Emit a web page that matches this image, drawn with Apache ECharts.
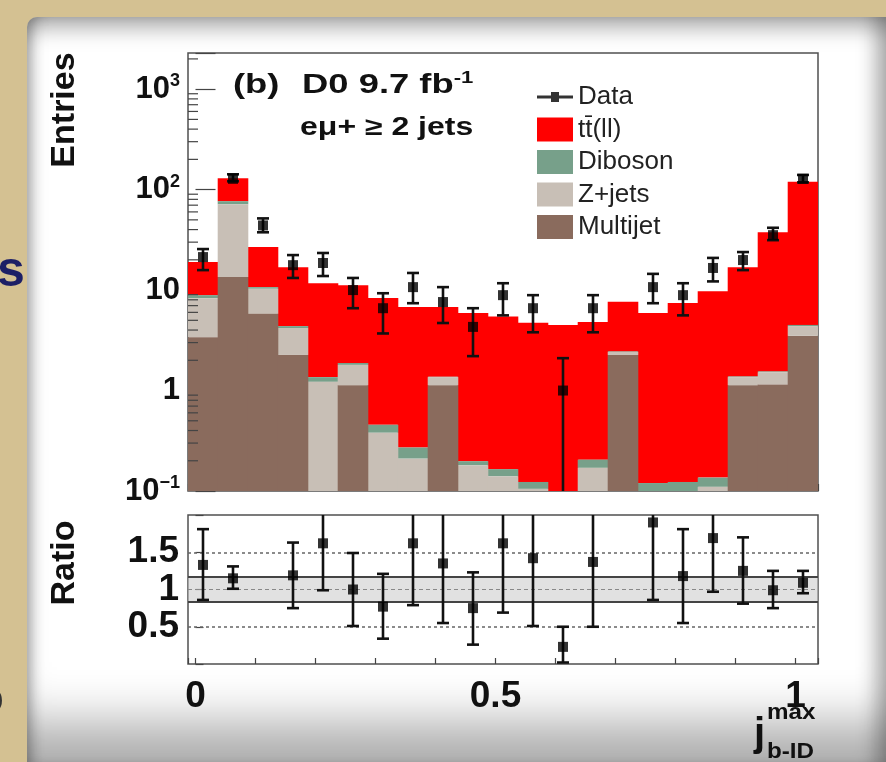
<!DOCTYPE html>
<html><head><meta charset="utf-8">
<script src="https://cdn.jsdelivr.net/npm/echarts@6/dist/echarts.min.js"></script>
<style>
html,body{margin:0;padding:0;width:886px;height:762px;overflow:hidden;background:#d4c192;}
#paper{position:absolute;left:27px;top:17px;width:859px;height:745px;background:#fff;
 box-shadow: inset 0 20px 22px -10px rgba(0,0,0,0.35), inset 0 -70px 50px -30px rgba(0,0,0,0.32), inset 12px 0 14px -8px rgba(0,0,0,0.3), inset -22px 0 18px -10px rgba(0,0,0,0.25);
 border-radius: 10px 0 0 0;}
#chart{position:absolute;left:0;top:0;width:886px;height:762px;}
</style></head>
<body><div id="paper"></div><div id="chart"></div>
<script>
// ---- data ----
const binCenters = [0.0125,0.0625,0.1125,0.1625,0.2125,0.2625,0.3125,0.3625,0.4125,0.4625,0.5125,0.5625,0.6125,0.6625,0.7125,0.7625,0.8125,0.8625,0.9125,0.9625,1.0125];
const binWidth = 0.05;
const multijet = [3.4,13.5,5.8,2.26,0,1.13,0,0,1.13,0,0,0,0,0,2.26,0,0,0,1.13,1.15,3.5];
const zjets    = [4.9,58,4.5,1.93,1.22,0.67,0.38,0.21,0.23,0.18,0.14,0.105,0,0.17,0.16,0,0.1,0.11,0.23,0.37,0.88];
const diboson  = [0.6,5.2,0.4,0.19,0.14,0.08,0.076,0.061,0.01,0.018,0.025,0.018,0,0.035,0.03,0.12,0.023,0.026,0.02,0.03,0.12];
const ttbar    = [10.1,53,16.1,12.5,10.3,9.3,7.9,6.5,5.4,5.7,5.3,4.6,4.5,4.6,5.2,5.8,7.3,9.6,15.5,36,115];
const dataVals = [21.3,128,44,17.7,18.6,10,6.6,10.7,7.6,4.3,8.9,6.6,1,6.6,null,10.7,8.9,16.6,19.9,35.2,128];
const dataLo   = [15.8,121,37.6,13.2,13.8,6.6,3.7,7.4,4.7,2.2,5.6,3.8,0.05,3.8,null,7.4,5.6,12.2,15.8,31.4,118];
const dataHi   = [25.6,142,51.7,22.3,23.4,13.2,9.3,14.8,10.7,6.6,11.7,8.9,2.1,8.9,null,14.5,11.7,20.9,23.9,41.7,140];
const ratioVals = [1.33,1.15,null,1.19,1.62,1.0,0.77,1.62,1.35,0.75,1.62,1.42,0.23,1.37,null,1.90,1.18,1.69,1.25,0.99,1.09];
const ratioLo   = [0.86,1.01,null,0.75,0.99,0.51,0.34,0.79,0.55,0.26,0.69,0.51,0.02,0.5,null,0.86,0.55,0.97,0.81,0.75,0.95];
const ratioHi   = [1.81,1.31,null,1.63,2.3,1.49,1.21,2.3,2.3,1.23,2.3,2.3,0.5,2.3,null,2.3,1.81,2.3,1.70,1.25,1.25];
const ratioBand = [0.83, 1.17];
const yTickLabels = {'-1':'10{s|−1}','0':'1','1':'10','2':'10{s|2}','3':'10{s|3}'};
const X_MIN = -0.0125, X_MAX = 1.0375, Y_MIN = 0.1, Y_MAX = 2290;

const FONT = 'Liberation Sans, Arial, Helvetica, sans-serif';
const COLORS = {tt:'#ff0000', db:'#77a08a', zj:'#c8bfb6', mj:'#8a6b5d'};
const NAMES = {tt:'tt\u0304(ll)', db:'Diboson', zj:'Z+jets', mj:'Multijet'};

// cumulative stack tops
const cumMJ = multijet.slice();
const cumZJ = cumMJ.map((v,i)=>v+zjets[i]);
const cumDB = cumZJ.map((v,i)=>v+diboson[i]);
const cumTT = cumDB.map((v,i)=>v+ttbar[i]);

function histSeries(key, lows, highs){
  return {
    type:'custom', name:NAMES[key], xAxisIndex:0, yAxisIndex:0, clip:true, z:2,
    itemStyle:{color:COLORS[key]},
    data: binCenters.map((c,i)=>[c, Math.max(lows ? lows[i] : Y_MIN, Y_MIN), Math.max(highs[i], Y_MIN)]),
    renderItem(params, api){
      const c = api.value(0), lo = api.value(1), hi = api.value(2);
      if (!(hi > lo)) return null;
      const p0 = api.coord([c - binWidth/2, hi]);
      const p1 = api.coord([c + binWidth/2, lo]);
      return {type:'rect', shape:{x:p0[0]-0.3, y:p0[1], width:p1[0]-p0[0]+0.6, height:p1[1]-p0[1]},
              style:{fill:COLORS[key]}};
    }
  };
}

function errSeries(xi, yi, vals, lo, hi, cap){
  const d = [];
  binCenters.forEach((c,i)=>{ if (vals[i] != null) d.push([c, lo[i], hi[i]]); });
  return {
    type:'custom', xAxisIndex:xi, yAxisIndex:yi, clip:true, z:5, silent:true,
    data:d,
    renderItem(params, api){
      const c = api.value(0);
      const ymin = yi === 0 ? Y_MIN : 0;
      const loV = Math.max(api.value(1), ymin*0.5);
      const pl = api.coord([c, loV]), ph = api.coord([c, api.value(2)]);
      const st = {stroke:'#111', lineWidth:2.6};
      return {type:'group', children:[
        {type:'line', shape:{x1:pl[0], y1:pl[1], x2:ph[0], y2:ph[1]}, style:st},
        {type:'line', shape:{x1:ph[0]-cap, y1:ph[1], x2:ph[0]+cap, y2:ph[1]}, style:st},
        {type:'line', shape:{x1:pl[0]-cap, y1:pl[1], x2:pl[0]+cap, y2:pl[1]}, style:st}
      ]};
    }
  };
}

// minor log ticks on the upper y axis
const minorVals = [];
for (let e=-1; e<=3; e++) for (let m=2; m<=9; m++) { const v = m*Math.pow(10,e); if (v < Y_MAX) minorVals.push(v); }

const chart = echarts.init(document.getElementById('chart'), null, {renderer:'canvas'});
const xLabelFmt = v => { const r = Math.round(v*2)/2; return Math.abs(v-r) < 1e-6 && r >= 0 && r <= 1 ? String(r) : ''; };

chart.setOption({
  animation:false,
  backgroundColor:'transparent',
  grid:[
    {left:188, top:53, width:630, height:438, show:true, borderColor:'#505050', borderWidth:1.5, backgroundColor:'#fff'},
    {left:188, top:515, width:630, height:149, show:true, borderColor:'#505050', borderWidth:1.5, backgroundColor:'#fff'}
  ],
  xAxis:[
    {type:'value', gridIndex:0, min:X_MIN, max:X_MAX, splitNumber:10,
     axisLine:{show:false}, splitLine:{show:false},
     axisTick:{show:true, inside:true, length:7, lineStyle:{color:'#444', width:1.2}},
     axisLabel:{show:false}},
    {type:'value', gridIndex:1, min:X_MIN, max:X_MAX, splitNumber:10,
     axisLine:{show:false}, splitLine:{show:false},
     axisTick:{show:true, inside:true, length:6, lineStyle:{color:'#444', width:1.2}},
     axisLabel:{show:true, margin:14, formatter:xLabelFmt, fontSize:37, fontWeight:'bold', color:'#111', fontFamily:FONT}}
  ],
  yAxis:[
    {type:'log', gridIndex:0, logBase:10, min:Y_MIN, max:Y_MAX,
     axisLine:{show:false}, splitLine:{show:false},
     axisTick:{show:true, inside:true, length:20, lineStyle:{color:'#444', width:1.2}},
     axisLabel:{margin:8, color:'#111', fontFamily:FONT,
       formatter:v => { const e = Math.round(Math.log10(v)); return Math.abs(Math.log10(v)-e) < 1e-6 && yTickLabels[String(e)] !== undefined ? yTickLabels[String(e)] : ''; },
       rich:{s:{fontSize:18, fontWeight:'bold', color:'#111', fontFamily:FONT, padding:[0,0,16,0]}},
       fontSize:31, fontWeight:'bold'}},
    {type:'value', gridIndex:1, min:0, max:2, interval:0.5,
     axisLine:{show:false}, splitLine:{show:false},
     axisTick:{show:true, inside:true, length:8, lineStyle:{color:'#444', width:1.2}},
     axisLabel:{margin:9, color:'#111', fontFamily:FONT, fontSize:37, fontWeight:'bold',
       formatter:v => (v > 0.01 && v < 1.99) ? String(v) : ''}}
  ],
  legend:{
    left:537, top:84, orient:'vertical', itemWidth:36, itemHeight:24, itemGap:6.5, padding:0,
    selectedMode:false,
    textStyle:{fontSize:26, color:'#222', fontFamily:FONT},
    data:[
      {name:'Data', icon:'path://M0,10.5h14v-3.5h8v3.5h14v3h-14v3.5h-8v-3.5h-14z'},
      {name:NAMES.tt, icon:'rect'},
      {name:NAMES.db, icon:'rect'},
      {name:NAMES.zj, icon:'rect'},
      {name:NAMES.mj, icon:'rect'}
    ]
  },
  graphic:[
    {type:'text', x:65, y:110, rotation:Math.PI/2, style:{text:'Entries', font:'bold 34px '+FONT, fill:'#111', align:'center', verticalAlign:'middle'}},
    {type:'text', x:65, y:563, rotation:Math.PI/2, style:{text:'Ratio', font:'bold 34px '+FONT, fill:'#111', align:'center', verticalAlign:'middle'}},
    {type:'text', x:233, y:85, scaleX:1.3, style:{text:'(b)', font:'bold 28px '+FONT, fill:'#111', verticalAlign:'middle'}},
    {type:'text', x:302, y:85, scaleX:1.3, style:{text:'D0 9.7 fb{s|-1}', font:'bold 28px '+FONT, fill:'#111', verticalAlign:'middle',
      rich:{s:{font:'bold 17px '+FONT, fill:'#111', padding:[0,0,14,0]}}}},
    {type:'text', x:300, y:128, scaleX:1.28, style:{text:'e\u03bc+ \u2265 2 jets', font:'bold 25px '+FONT, fill:'#111', verticalAlign:'middle'}},
    {type:'text', x:754, y:735, style:{text:'j', font:'bold 40px '+FONT, fill:'#111', verticalAlign:'middle'}},
    {type:'text', x:767, y:713, scaleX:1.1, style:{text:'max', font:'bold 22px '+FONT, fill:'#111', verticalAlign:'middle'}},
    {type:'text', x:767, y:752, scaleX:1.1, style:{text:'b-ID', font:'bold 22px '+FONT, fill:'#111', verticalAlign:'middle'}},
    {type:'text', x:-3, y:272, style:{text:'s', font:'bold 50px '+FONT, fill:'#1c1f66', verticalAlign:'middle'}},
    {type:'text', x:-4, y:700, style:{text:')', font:'22px '+FONT, fill:'#333', verticalAlign:'middle'}}
  ],
  series:[
    histSeries('tt', cumDB, cumTT),
    histSeries('db', cumZJ, cumDB),
    histSeries('zj', cumMJ, cumZJ),
    histSeries('mj', null, cumMJ),
    // minor ticks
    {type:'custom', xAxisIndex:0, yAxisIndex:0, silent:true, z:6, clip:true,
     data: minorVals.map(v=>[X_MIN, v]),
     renderItem(params, api){
       const p = api.coord([api.value(0), api.value(1)]);
       return {type:'line', shape:{x1:p[0], y1:p[1], x2:p[0]+10, y2:p[1]}, style:{stroke:'#444', lineWidth:1.2}};
     }},
    errSeries(0, 0, dataVals, dataLo, dataHi, 6),
    {type:'scatter', name:'Data', xAxisIndex:0, yAxisIndex:0, z:7, symbol:'rect', symbolSize:10,
     itemStyle:{color:'#000'}, silent:true,
     data: binCenters.map((c,i)=>dataVals[i]==null?null:[c, dataVals[i]]).filter(d=>d)},
    // ratio band + reference lines
    {type:'line', xAxisIndex:1, yAxisIndex:1, data:[], silent:true, z:1,
     markArea:{silent:true, itemStyle:{color:'rgba(200,200,200,0.55)'},
       data:[[{xAxis:X_MIN, yAxis:ratioBand[0]},{xAxis:X_MAX, yAxis:ratioBand[1]}]]},
     markLine:{silent:true, symbol:'none', label:{show:false},
       data:[
         {yAxis:0.5, lineStyle:{type:[3,3], color:'#666', width:1.5}},
         {yAxis:1.5, lineStyle:{type:[3,3], color:'#666', width:1.5}},
         {yAxis:1.0, lineStyle:{type:[4,3], color:'#888', width:1.2}},
         {yAxis:ratioBand[0], lineStyle:{type:'solid', color:'#444', width:2}},
         {yAxis:ratioBand[1], lineStyle:{type:'solid', color:'#444', width:2}}
       ]}},
    errSeries(1, 1, ratioVals, ratioLo, ratioHi, 6),
    {type:'scatter', xAxisIndex:1, yAxisIndex:1, z:7, symbol:'rect', symbolSize:10, silent:true,
     itemStyle:{color:'#000'},
     data: binCenters.map((c,i)=>ratioVals[i]==null?null:[c, ratioVals[i]]).filter(d=>d)}
  ]
});
</script></body></html>
